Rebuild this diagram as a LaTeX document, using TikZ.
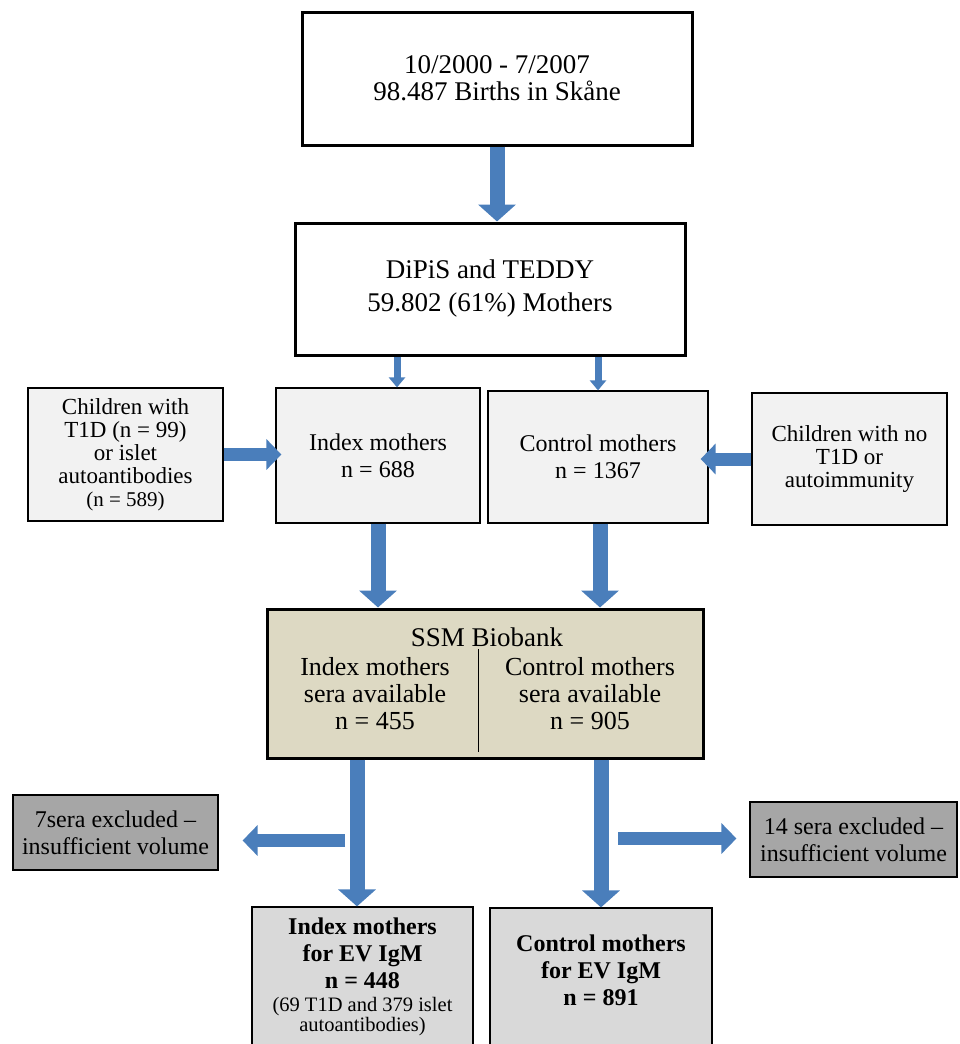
\documentclass[tikz,border=0pt]{standalone}
\usepackage{fontspec}
\setmainfont{Liberation Serif}
\usetikzlibrary{arrows.meta,calc}
\definecolor{arrowblue}{HTML}{4A7EBB}
\definecolor{boxgray}{HTML}{F2F2F2}
\definecolor{biotan}{HTML}{DDD9C3}
\definecolor{exgray}{HTML}{A6A6A6}
\definecolor{evgray}{HTML}{D9D9D9}
\begin{document}
\begin{tikzpicture}[x=1pt,y=-1pt,
 thickbox/.style={draw=black,line width=3pt,inner sep=0pt,align=center},
 thinbox/.style={draw=black,line width=1.2pt,inner sep=0pt,align=center},
 bigarrow/.style={draw=arrowblue,line width=15pt,-{Triangle[width=37pt,length=17pt]}},
 smallarrow/.style={draw=arrowblue,line width=7pt,-{Triangle[width=16pt,length=10pt]}},
 midarrow/.style={draw=arrowblue,line width=13pt,-{Triangle[width=30pt,length=15pt]}},
 txt/.style={align=center,inner sep=0pt},
 f26/.style={font=\fontsize{27}{27}\selectfont},
 f24/.style={font=\fontsize{24}{27}\selectfont},
 f22/.style={font=\fontsize{23}{23}\selectfont},
]
\useasboundingbox (0,0) rectangle (959,1044);
% top boxes
\node[thickbox,fill=white,f26,minimum width=390pt,minimum height=133pt] (b1) at (497,78.5)
  {10/2000 - 7/2007\\98.487 Births in Skåne};
\node[thickbox,fill=white,f26,minimum width=390pt,minimum height=132pt] (b2) at (490,289)
  {DiPiS and TEDDY\\[6pt]59.802 (61\%) Mothers};
% middle row
\node[thinbox,fill=boxgray,f24,minimum width=204pt,minimum height=135pt] (idx) at (378,455.5)
  {Index mothers\\n = 688};
\node[thinbox,fill=boxgray,f24,minimum width=220pt,minimum height=132pt] (ctl) at (598,457)
  {Control mothers\\n = 1367};
\node[thinbox,fill=boxgray,f22,minimum width=195pt,minimum height=133pt] (ch1) at (125.5,454.5)
  {Children with\\T1D (n = 99)\\or islet\\autoantibodies\\{\fontsize{21}{23}\selectfont(n = 589)}};
\node[thinbox,fill=boxgray,f22,minimum width=195pt,minimum height=132pt] (ch2) at (849.5,459)
  {Children with no\\T1D or\\autoimmunity};
% biobank
\node[thickbox,fill=biotan,minimum width=436pt,minimum height=149pt] (ssm) at (485,683.5) {};
\node[txt,f26] (ssmT) at (487,637) {SSM Biobank};
\node[txt,font=\fontsize{26}{27}\selectfont] (ssmL) at (375,694) {Index mothers\\sera available\\n = 455};
\node[txt,font=\fontsize{26}{27}\selectfont] (ssmR) at (590,694) {Control mothers\\sera available\\n = 905};
\draw[line width=1pt] ($(ssm.south)+(-7,-8)$) -- ($(ssm.north)+(-7,41)$);
% excluded
\node[thinbox,fill=exgray,f24,minimum width=205pt,minimum height=75pt] (ex1) at (115.5,832.5)
  {7sera excluded --\\insufficient volume};
\node[thinbox,fill=exgray,f24,minimum width=207pt,minimum height=75pt] (ex2) at (853.5,839.5)
  {14 sera excluded --\\insufficient volume};
% final boxes
\node[thinbox,fill=evgray,minimum width=221pt,minimum height=139pt] (ev1) at (362.5,976.5) {};
\node[thinbox,fill=evgray,minimum width=222pt,minimum height=139pt] (ev2) at (601,977.5) {};
\node[txt,font=\bfseries\fontsize{24}{27}\selectfont] (ev1t) at (362.5,953)
  {Index mothers\\for EV IgM\\n = 448};
\node[txt,font=\fontsize{20.5}{20}\selectfont] (ev1s) at (362.5,1017)
  {(69 T1D and 379 islet\\autoantibodies)};
\node[txt,font=\bfseries\fontsize{24}{27}\selectfont] (ev2t) at (601,970)
  {Control mothers\\for EV IgM\\n = 891};
% arrow anchor coordinates
\coordinate (c1) at ([xshift=2pt]ctl.south);
\coordinate (c2) at ([xshift=-128pt]ssm.south);
\coordinate (c3) at ([xshift=116pt]ssm.south);
\coordinate (s1) at ([xshift=-140pt,yshift=-81pt]ssm.south);
\coordinate (s2) at ([xshift=133pt,yshift=-79pt]ssm.south);
% arrows
\draw[bigarrow] (b1.south) -- (b2.north -| b1.south);
\draw[smallarrow] ([xshift=-93pt]b2.south) -- ([xshift=19pt]idx.north);
\draw[smallarrow] ([xshift=108pt]b2.south) -- (ctl.north);
\draw[midarrow] (ch1.east) -- ([xshift=6pt]idx.west |- ch1.east);
\draw[midarrow] (ch2.west) -- ([xshift=-8pt]ctl.east |- ch2.west);
\draw[bigarrow] (idx.south) -- (ssm.north -| idx.south);
\draw[bigarrow] (c1) -- (ssm.north -| c1);
\draw[bigarrow] (c2) -- (ev1.north -| c2);
\draw[bigarrow] (c3) -- (ev2.north -| c3);
\draw[midarrow] (s1) -- ([xshift=24pt]ex1.east |- s1);
\draw[midarrow] (s2) -- ([xshift=-13pt]ex2.west |- s2);
\end{tikzpicture}
\end{document}
